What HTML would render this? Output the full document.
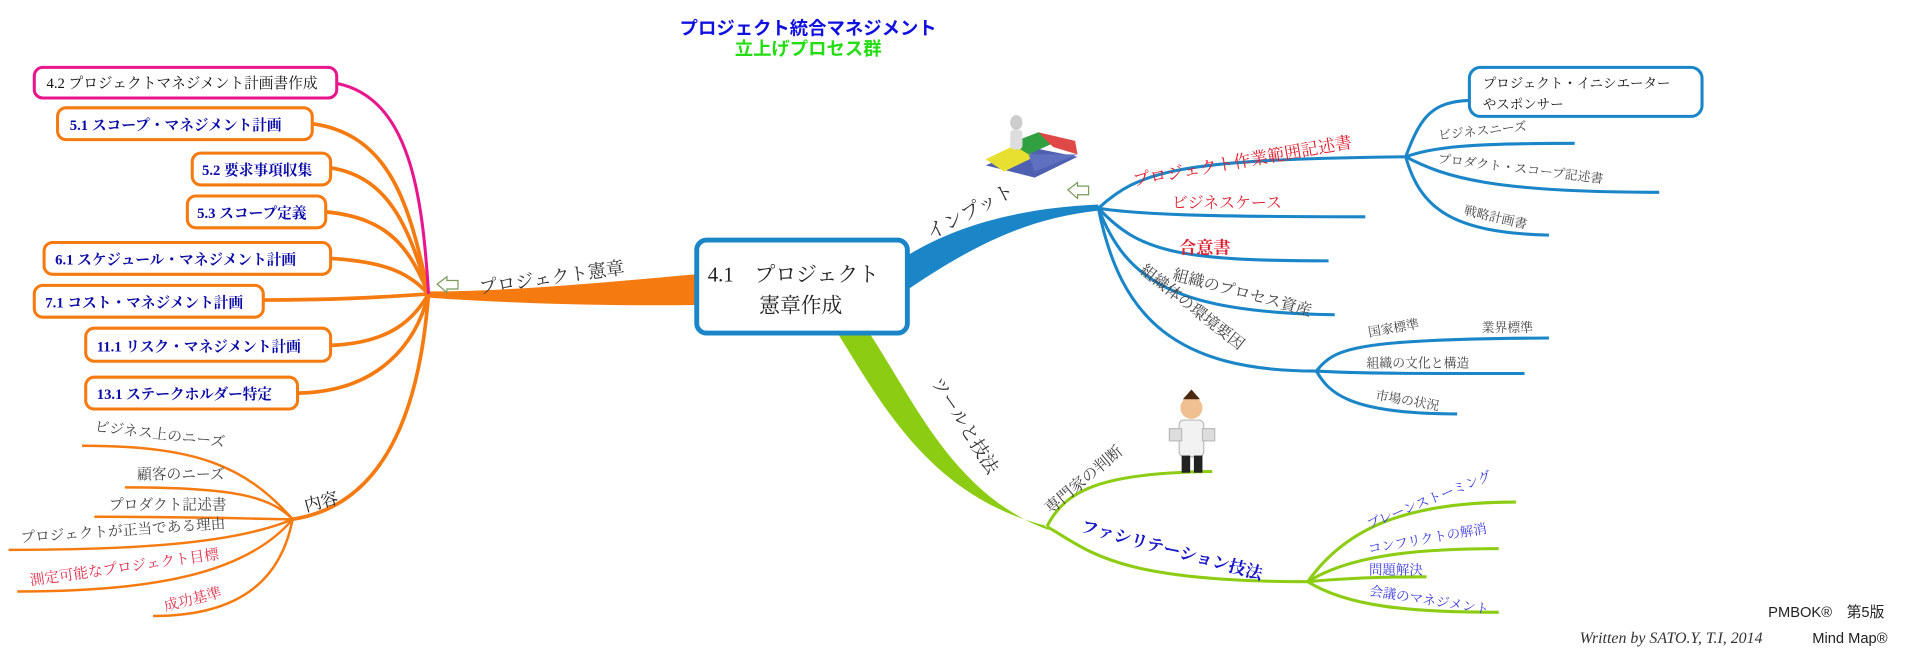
<!DOCTYPE html>
<html><head><meta charset="utf-8"><style>
html,body{margin:0;padding:0;background:#fff;}
svg{display:block;}
.m{font-family:"Liberation Serif","Noto Serif CJK JP",serif;}
.g{font-family:"Liberation Sans","Noto Sans CJK JP",sans-serif;}
</style></head><body>
<svg width="1920" height="665" viewBox="0 0 1568 543" xmlns="http://www.w3.org/2000/svg">
<!-- Title -->
<text x="660" y="28" text-anchor="middle" class="g" font-size="15" font-weight="bold" fill="#1010e0">プロジェクト統合マネジメント</text>
<text x="660" y="45" text-anchor="middle" class="g" font-size="15" font-weight="bold" fill="#22dd11">立上げプロセス群</text>

<!-- thick branches -->
<path d="M568,224 C500,230 420,238 350,238 L350,243 C420,248 500,250 568,249 Z" fill="#f57a0f"/>
<path d="M742,208 C780,185 830,170 897,167 L897,172 C840,178 795,200 742,236 Z" fill="#1a86c8"/>
<path d="M684,272 C720,330 760,405 853,429 L857,433 C780,405 748,330 710,272 Z" fill="#8ccc12"/>

<!-- left connectors -->
<g fill="none" stroke="#f57a0f" stroke-width="3">
<path d="M255,101 C320,110 335,170 350,240"/>
<path d="M270,137 C320,145 335,190 350,240"/>
<path d="M266,173 C320,178 335,205 350,240"/>
<path d="M270,211 C320,214 335,225 350,240"/>
<path d="M215,245 C280,245 320,242 350,240"/>
<path d="M270,282 C320,280 338,260 350,240"/>
<path d="M243,321 C310,320 340,280 350,240"/>
<path d="M350,240 C345,300 330,410 239,424"/>
</g>
<path d="M275,68 C335,80 345,160 350,240" fill="none" stroke="#e8168c" stroke-width="2.5"/>
<g fill="none" stroke="#f57a0f" stroke-width="2">
<path d="M239,424 C200,380 160,364 67,364"/>
<path d="M239,424 C220,405 190,398 102,398"/>
<path d="M239,424 C210,424 180,422 77,422"/>
<path d="M239,424 C190,445 100,449 7,449"/>
<path d="M239,424 C200,470 120,483 14,483"/>
<path d="M239,424 C230,470 200,503 125,503"/>
</g>

<!-- left boxes -->
<g fill="#fff" stroke="#f57a0f" stroke-width="2.5">
<rect x="28" y="55" width="247" height="25" rx="7" stroke="#e8168c"/>
<rect x="47" y="88" width="208" height="26" rx="7"/>
<rect x="157" y="125" width="113" height="26" rx="7"/>
<rect x="153" y="160" width="113" height="26" rx="7"/>
<rect x="36" y="198" width="234" height="26" rx="7"/>
<rect x="28" y="233" width="187" height="26" rx="7"/>
<rect x="70" y="268" width="200" height="27" rx="7"/>
<rect x="70" y="308" width="173" height="26" rx="7"/>
</g>
<g class="m" font-size="12">
<text x="38" y="72" fill="#111">4.2 プロジェクトマネジメント計画書作成</text>
<g fill="#0a0aa8" font-weight="bold">
<text x="57" y="106">5.1 スコープ・マネジメント計画</text>
<text x="165" y="143">5.2 要求事項収集</text>
<text x="161" y="178">5.3 スコープ定義</text>
<text x="45" y="216">6.1 スケジュール・マネジメント計画</text>
<text x="37" y="251">7.1 コスト・マネジメント計画</text>
<text x="79" y="287">11.1 リスク・マネジメント計画</text>
<text x="79" y="326">13.1 ステークホルダー特定</text>
</g></g>

<!-- left labels -->
<text class="m" font-size="15" fill="#333" transform="translate(392,240) rotate(-8)">プロジェクト憲章</text>
<path d="M357,232 l8,-6 v3 h9 v7 h-9 v3 z" fill="#fff" stroke="#7a9a5a" stroke-width="1"/>
<text class="m" font-size="14" fill="#222" transform="translate(250,418) rotate(-15)">内容</text>
<g class="m" font-size="12" fill="#444">
<text transform="translate(77,352) rotate(7)">ビジネス上のニーズ</text>
<text x="112" y="391">顧客のニーズ</text>
<text x="89" y="416">プロダクト記述書</text>
<text transform="translate(17,443) rotate(-4)">プロジェクトが正当である理由</text>
</g>
<g class="m" font-size="12" fill="#e0304a">
<text transform="translate(25,478) rotate(-8)">測定可能なプロジェクト目標</text>
<text transform="translate(135,499) rotate(-14)">成功基準</text>
</g>

<!-- center box -->
<rect x="569" y="196" width="172" height="76" rx="8" fill="#fff" stroke="#1a86c8" stroke-width="4"/>
<text class="m" font-size="17" fill="#222" x="578" y="230">4.1　プロジェクト</text>
<text class="m" font-size="17" fill="#222" x="620" y="255">憲章作成</text>

<!-- right blue -->
<text class="m" font-size="16" fill="#333" transform="translate(760,196) rotate(-28)">インプット</text>
<g fill="none" stroke="#1a86c8" stroke-width="2.5">
<path d="M897,170 C930,140 960,130 1148,128"/>
<path d="M897,170 C930,175 980,177 1115,177"/>
<path d="M897,170 C930,205 960,213 1085,213"/>
<path d="M897,170 C920,230 960,255 1090,257"/>
<path d="M897,170 C915,260 960,303 1075,303"/>
<path d="M1148,128 C1160,95 1170,83 1200,82"/>
<path d="M1148,128 C1170,120 1200,117 1286,117"/>
<path d="M1148,128 C1180,145 1220,157 1355,157"/>
<path d="M1148,128 C1160,170 1185,190 1265,192"/>
<path d="M1075,303 C1090,285 1100,277 1265,276"/>
<path d="M1075,303 C1110,305 1150,305 1245,305"/>
<path d="M1075,303 C1085,320 1100,338 1190,338"/>
</g>
<g class="m" font-size="14" fill="#e02030">
<text transform="translate(926,152) rotate(-10)">プロジェクト作業範囲記述書</text>
<text x="957" y="170" font-size="13">ビジネスケース</text>
<text x="963" y="207" font-weight="bold">合意書</text>
</g>
<g class="m" font-size="13" fill="#444">
<text transform="translate(957,228) rotate(15)">組織のプロセス資産</text>
<text transform="translate(930,222) rotate(38)">組織体の環境要因</text>
</g>
<rect x="1200" y="55" width="190" height="40" rx="9" fill="#fff" stroke="#1a86c8" stroke-width="2.5"/>
<text class="m" font-size="11" fill="#111" x="1211" y="72">プロジェクト・イニシエーター</text>
<text class="m" font-size="11" fill="#111" x="1211" y="89">やスポンサー</text>
<g class="m" font-size="10.5" fill="#444">
<text transform="translate(1175,114) rotate(-6)">ビジネスニーズ</text>
<text transform="translate(1174,133) rotate(7)">プロダクト・スコープ記述書</text>
<text transform="translate(1195,175) rotate(13)">戦略計画書</text>
<text transform="translate(1118,275) rotate(-10)">国家標準</text>
<text x="1210" y="271">業界標準</text>
<text x="1116" y="300">組織の文化と構造</text>
<text transform="translate(1123,326) rotate(10)">市場の状況</text>
</g>
<!-- puzzle -->
<g>
<polygon points="805,135 840,120 880,128 845,145" fill="#5060b0"/>
<polygon points="805,130 830,118 845,128 820,140" fill="#e8e030"/>
<polygon points="825,117 848,108 862,116 840,126" fill="#30a040"/>
<polygon points="848,108 878,115 880,126 860,120" fill="#e04848"/>
<polygon points="840,126 880,126 845,140" fill="#6070c0"/>
<ellipse cx="830" cy="100" rx="5" ry="6" fill="#ccc"/>
<rect x="825" y="106" width="10" height="16" rx="3" fill="#ddd"/>
</g>
<path d="M872,155 l8,-6 v3 h9 v7 h-9 v3 z" fill="#fff" stroke="#7a9a5a" stroke-width="1"/>

<!-- green -->
<text class="m" font-size="15" fill="#333" transform="translate(760,312) rotate(58)">ツールと技法</text>
<g fill="none" stroke="#8ccc12" stroke-width="2.5">
<path d="M855,430 C870,400 900,386 990,385"/>
<path d="M855,430 C890,450 910,475 1068,475"/>
<path d="M1068,475 C1100,430 1150,410 1238,410"/>
<path d="M1068,475 C1100,455 1150,448 1224,448"/>
<path d="M1068,475 C1100,472 1130,471 1165,471"/>
<path d="M1068,475 C1100,495 1150,500 1224,500"/>
</g>
<text class="m" font-size="13" fill="#444" transform="translate(858,420) rotate(-40)">専門家の判断</text>
<text class="m" font-size="14" fill="#1818c8" font-weight="bold" transform="translate(882,434) rotate(15)">ファシリテーション技法</text>
<g class="m" font-size="11" fill="#3a3ae0">
<text transform="translate(1118,432) rotate(-22)">ブレーンストーミング</text>
<text transform="translate(1118,452) rotate(-10)">コンフリクトの解消</text>
<text x="1118" y="469">問題解決</text>
<text transform="translate(1118,486) rotate(9)">会議のマネジメント</text>
</g>
<!-- doctor -->
<g>
<circle cx="973" cy="333" r="9" fill="#f0c090"/>
<path d="M966,326 l7,-8 l7,8 z" fill="#4a2a10"/>
<rect x="963" y="343" width="20" height="30" rx="4" fill="#f2f2f2" stroke="#bbb"/>
<rect x="955" y="350" width="10" height="10" fill="#ddd" stroke="#bbb"/>
<rect x="982" y="350" width="10" height="10" fill="#ddd" stroke="#bbb"/>
<rect x="965" y="372" width="7" height="14" fill="#222"/>
<rect x="975" y="372" width="7" height="14" fill="#222"/>
</g>

<!-- credits -->
<text class="g" font-size="12" fill="#222" x="1444" y="504">PMBOK®　第5版</text>
<text font-family="Liberation Serif, serif" font-style="italic" font-size="13" fill="#333" x="1290" y="525">Written by SATO.Y, T.I, 2014</text>
<text class="g" font-size="12" fill="#222" x="1480" y="525">Mind Map®</text>
</svg>
</body></html>
